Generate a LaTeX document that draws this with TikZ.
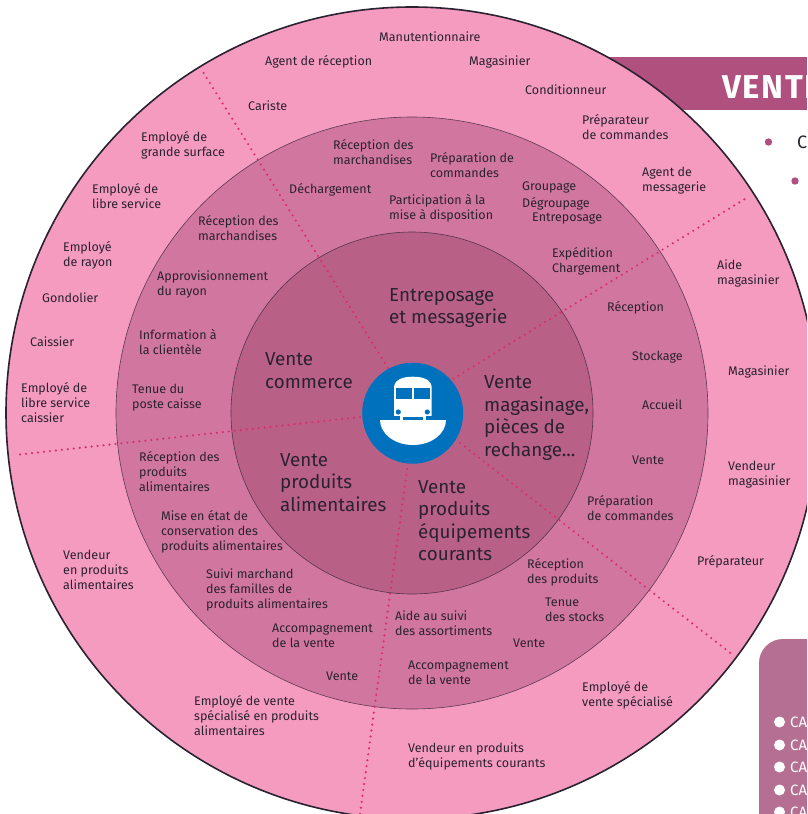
\documentclass[tikz,border=0pt]{standalone}
\usepackage{fontspec}
\setmainfont{Fira Sans}
\newfontfamily\titlefont[LetterSpace=5]{Fira Sans}
\definecolor{outerpink}{HTML}{F59BBF}
\definecolor{midpink}{HTML}{D1769F}
\definecolor{innerpink}{HTML}{B96087}
\definecolor{bannerc}{HTML}{B0507E}
\definecolor{panelc}{HTML}{B56F93}
\definecolor{iconblue}{HTML}{0071BC}
\definecolor{inkc}{HTML}{2A2230}
\definecolor{dotc}{HTML}{D92E6E}
\tikzset{
  lab/.style={anchor=west,align=left,inner sep=0pt,yshift=-0.9pt,text=inkc,font=\fontsize{12.5}{15}\selectfont},
  big/.style={anchor=west,align=left,inner sep=0pt,text=inkc,font=\fontsize{18.8}{22.5}\selectfont},
  ring/.style={circle,inner sep=0pt,minimum size=#1},
  sep/.style={draw=dotc,line width=2.4pt,line cap=round,dash pattern=on 0pt off 6pt},
}
\begin{document}
\begin{tikzpicture}[x=1pt,y=-1pt]
\useasboundingbox (0,0) rectangle (807,814);
\clip (0,0) rectangle (807,814);
% banner and right-hand material
\fill[bannerc] (607,57) rectangle (807,110);
\node[anchor=west,inner sep=0pt,text=white,font=\titlefont\fontsize{33}{36}\bfseries\selectfont] (title) at (722,87) {VENTE};
\fill[bannerc] (768.5,142) circle (3.7);
\fill[bannerc] (795,181) circle (3.7);
\node[anchor=west,inner sep=0pt,text=inkc,font=\fontsize{18}{20}\selectfont] (ctext) at (797,142) {C};
\fill[panelc,rounded corners=24pt] (759,639) rectangle (840,860);
\foreach \i/\yy in {1/722,2/745,3/767,4/790,5/812}{
  \fill[white] (779.5,\yy) circle (5.5);
  \node[anchor=west,inner sep=0pt,text=white,font=\fontsize{15}{18}\selectfont] (ca\i) at (790,\yy) {CA};
}
% rings
\node[ring=812pt,fill=outerpink,draw=inkc,line width=1.6pt] (outer) at (412,413) {};
\node[ring=592pt,fill=midpink,draw=inkc!70!midpink,line width=.6pt] (middle) at (412,413) {};
\node[ring=362pt,fill=innerpink,draw=inkc!70!innerpink,line width=.6pt] (inner) at (412,413) {};
% separators
\coordinate (a1) at (388,368); \coordinate (b1) at (203,72);
\coordinate (a2) at (443,385); \coordinate (b2) at (748,197);
\coordinate (a3) at (360,417); \coordinate (b3) at (15,455);
\coordinate (a4) at (460,443); \coordinate (b4) at (733,655);
\coordinate (a5) at (408,463); \coordinate (b5) at (360,814);
\foreach \i in {1,...,5}{\draw[sep] (a\i) -- (b\i);}
% icon
\node[ring=101pt,fill=iconblue] (hub) at (412.7,413.2) {};
\fill[white] (380,420) -- (446,420) arc[start angle=0,end angle=180,x radius=33,y radius=25] -- cycle;
\fill[white] (394,416) -- (394,388) .. controls (394,380) and (402,376.7) .. (412.8,376.7) .. controls (424,376.7) and (431.7,380) .. (431.7,388) -- (431.7,416) -- (428,420) -- (398,420) -- cycle;
\fill[iconblue] (396,388) rectangle (411.7,399.3);
\fill[iconblue] (414,388) rectangle (429.7,399.3);
\fill[iconblue] (398.3,412) circle (2.6);
\fill[iconblue] (427.3,412) circle (2.6);
\fill[iconblue] (392,416) rectangle (399.5,420);
\fill[iconblue] (402.7,416.8) rectangle (422.7,420);
\fill[iconblue] (426,416) rectangle (434,420);
% outer ring labels
\node[lab] (o1) at (379,36) {Manutentionnaire};
\node[lab] (o2) at (265,61) {Agent de réception};
\node[lab] (o3) at (469,61) {Magasinier};
\node[lab] (o4) at (525,89) {Conditionneur};
\node[lab] (o5) at (582,126) {Préparateur\\de commandes};
\node[lab] (o6) at (248,105) {Cariste};
\node[lab] (o7) at (642,180) {Agent de\\messagerie};
\node[lab] (o8) at (141,144) {Employé de\\grande surface};
\node[lab] (o9) at (92,195) {Employé de\\libre service};
\node[lab] (o10) at (63,254) {Employé\\de rayon};
\node[lab] (o11) at (42,297) {Gondolier};
\node[lab] (o12) at (30,341) {Caissier};
\node[lab] (o13) at (21,402) {Employé de\\libre service\\caissier};
\node[lab] (o14) at (717,273) {Aide\\magasinier};
\node[lab] (o15) at (728,371) {Magasinier};
\node[lab] (o16) at (728,474) {Vendeur\\magasinier};
\node[lab] (o17) at (697,561) {Préparateur};
\node[lab] (o18) at (63,569) {Vendeur\\en produits\\alimentaires};
\node[lab] (o19) at (194,715) {Employé de vente\\spécialisé en produits\\alimentaires};
\node[lab] (o20) at (408,756) {Vendeur en produits\\d'équipements courants};
\node[lab] (o21) at (582,694) {Employé de\\vente spécialisé};
% middle ring labels
\node[lab] (m1) at (333,151) {Réception des\\marchandises};
\node[lab] (m2) at (430,164) {Préparation de\\commandes};
\node[lab] (m3) at (289,189) {Déchargement};
\node[lab] (m4) at (389,207) {Participation à la\\mise à disposition};
\node[lab] (m5) at (522,187) {Groupage};
\node[lab] (m6) at (522,203) {Dégroupage};
\node[lab] (m7) at (532,218) {Entreposage};
\node[lab] (m8) at (198,227) {Réception des\\marchandises};
\node[lab] (m9) at (552,260) {Expédition\\Chargement};
\node[lab] (m10) at (157,284) {Approvisionnement\\du rayon};
\node[lab] (m11) at (607,307) {Réception};
\node[lab] (m12) at (139,341) {Information à\\la clientèle};
\node[lab] (m13) at (632,356) {Stockage};
\node[lab] (m14) at (132,397) {Tenue du\\poste caisse};
\node[lab] (m15) at (642,404) {Accueil};
\node[lab] (m16) at (632,459) {Vente};
\node[lab] (m17) at (139,471) {Réception des\\produits\\alimentaires};
\node[lab] (m18) at (587,507) {Préparation\\de commandes};
\node[lab] (m19) at (161,531) {Mise en état de\\conservation des\\produits alimentaires};
\node[lab] (m20) at (527,571) {Réception\\des produits};
\node[lab] (m21) at (206,589) {Suivi marchand\\des familles de\\produits alimentaires};
\node[lab] (m22) at (545,609) {Tenue\\des stocks};
\node[lab] (m23) at (395,622) {Aide au suivi\\des assortiments};
\node[lab] (m24) at (272,635) {Accompagnement\\de la vente};
\node[lab] (m25) at (513,642) {Vente};
\node[lab] (m26) at (408,672) {Accompagnement\\de la vente};
\node[lab] (m27) at (326,675) {Vente};
% inner labels
\node[big] (i1) at (389,308) {Entreposage\\et messagerie};
\node[big] (i2) at (265,370.5) {Vente\\commerce};
\node[big] (i3) at (484,418) {Vente\\magasinage,\\pièces de\\rechange...};
\node[big] (i4) at (280,482.5) {Vente\\produits\\alimentaires};
\node[big] (i5) at (418,520.5) {Vente\\produits\\équipements\\courants};
\end{tikzpicture}
\end{document}
